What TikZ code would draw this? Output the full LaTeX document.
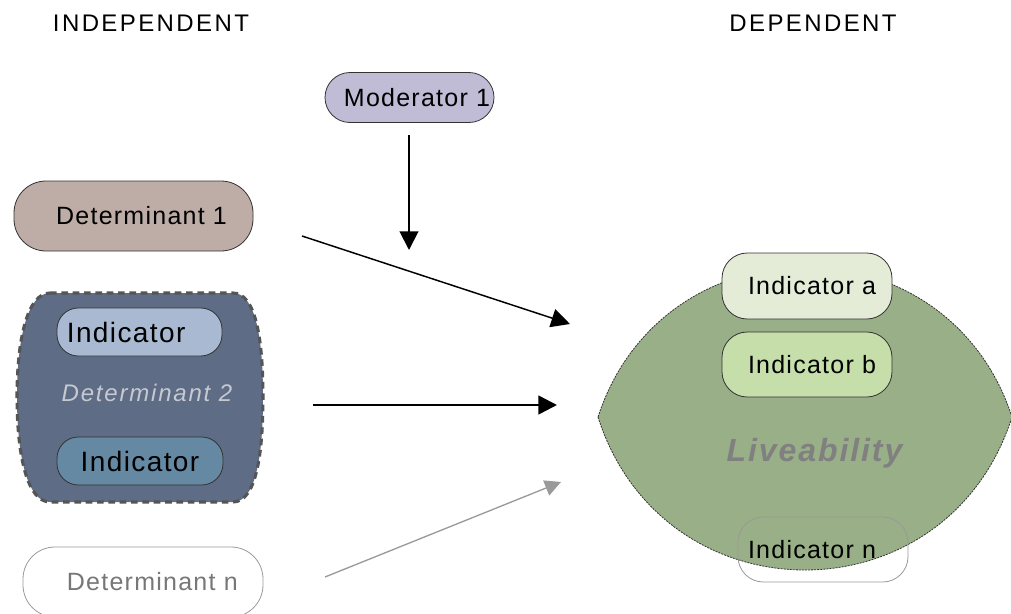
\documentclass[tikz,border=0pt]{standalone}
\usepackage{fontspec}
\setmainfont{Liberation Sans}
\newfontfamily\hdfont[LetterSpace=10]{Liberation Sans}
\newfontfamily\bxfont[LetterSpace=5]{Liberation Sans}
\newfontfamily\dtfont[LetterSpace=7.5]{Liberation Sans}
\newfontfamily\lvfont[LetterSpace=6]{Liberation Sans}
\usetikzlibrary{arrows.meta}
\definecolor{modfill}{HTML}{C0BCD6}
\definecolor{dafill}{HTML}{BDADA6}
\definecolor{dbfill}{HTML}{5E6C85}
\definecolor{dbborder}{HTML}{555555}
\definecolor{itopfill}{HTML}{A8B9D1}
\definecolor{ibotfill}{HTML}{6589A3}
\definecolor{dbtext}{HTML}{C5C9D1}
\definecolor{livfill}{HTML}{99AF87}
\definecolor{iafill}{HTML}{E4ECD7}
\definecolor{ibfill}{HTML}{C5DEAA}
\definecolor{livtext}{HTML}{808080}
\definecolor{dnline}{HTML}{999999}
\definecolor{dntext}{HTML}{777777}
\definecolor{arrgray}{HTML}{9A9A9A}
\definecolor{boxline}{HTML}{333333}
\tikzset{
  header/.style={inner sep=0pt, font=\hdfont\fontsize{18}{21}\selectfont},
  pillbox/.style={draw=boxline, line width=0.6pt, inner sep=0pt, font=\bxfont\fontsize{18.75}{22}\selectfont},
  bigpill/.style={pillbox, font=\bxfont\fontsize{21}{24}\selectfont},
  arrowtip/.style={-{Triangle[length=14pt,width=14pt]}},
}
\begin{document}
\begin{tikzpicture}[x=0.75pt,y=-0.75pt]
\useasboundingbox (0,0) rectangle (1011,614);
\clip (0,0) rectangle (1011,614);

% headers
\node[header] (indep) at (151,23) {INDEPENDENT};
\node[header] (dep) at (813,23) {DEPENDENT};

% moderator
\node[pillbox, fill=modfill, minimum width=126.75pt, minimum height=37.5pt, rounded corners=18.75pt] (mod) at (409.5,97.5) {\hspace*{11.25pt}Moderator 1};

% determinant 1
\node[pillbox, fill=dafill, minimum width=179.25pt, minimum height=52.5pt, rounded corners=24pt] (det1) at (133.5,216) {\hspace*{12pt}Determinant 1};

% determinant 2 container
\path[fill=dbfill, draw=dbborder, line width=2.3pt, dash pattern=on 5pt off 3.5pt]
  (50,293) -- (233,293) .. controls (256,293) and (263,340) .. (263,397)
  .. controls (263,455) and (256,502) .. (233,502) -- (50,502)
  .. controls (27,502) and (17,455) .. (17,397)
  .. controls (17,340) and (27,293) .. (50,293) -- cycle;
\node[bigpill, fill=itopfill, minimum width=123.75pt, minimum height=36pt, rounded corners=16pt] (indtop) at (139.5,332) {Indicator\hspace*{20pt}};
\node[bigpill, fill=ibotfill, minimum width=124.5pt, minimum height=36pt, rounded corners=16pt] (indbot) at (140,461) {Indicator};
\node[inner sep=0pt, text=dbtext, font=\dtfont\itshape\fontsize{18}{21}\selectfont] (det2) at (147,393) {Determinant 2};

% determinant n
\node[pillbox, draw=dnline, text=dntext, minimum width=180pt, minimum height=52.5pt, rounded corners=24pt] (detn) at (143,582) {\hspace*{14pt}Determinant n};

% liveability lens
\path[fill=livfill, draw=boxline, line width=0.6pt, dash pattern=on 1.5pt off 0.8pt]
  (598,417) .. controls (663,217) and (947,217) .. (1012,417)
  .. controls (947,621) and (663,621) .. (598,417) -- cycle;
\node[inner sep=0pt, text=livtext, font=\lvfont\bfseries\itshape\fontsize{24}{28}\selectfont] (live) at (814.5,453) {Liveability};
\node[pillbox, fill=iafill, minimum width=127.5pt, minimum height=49.5pt, rounded corners=19pt] (inda) at (807,286) {\hspace*{7.5pt}Indicator a};
\node[pillbox, fill=ibfill, minimum width=127.5pt, minimum height=48.75pt, rounded corners=19pt] (indb) at (807,364.5) {\hspace*{7.5pt}Indicator b};
\node[pillbox, draw=dnline, minimum width=127.5pt, minimum height=48.75pt, rounded corners=19pt] (indn) at (823,549.5) {Indicator n\hspace*{16.5pt}};

% arrows
\coordinate (ms) at (409,135);
\coordinate (me) at (409,250);
\coordinate (a1s) at (302,236);
\coordinate (a1e) at (570,324);
\coordinate (a2s) at (313,405);
\coordinate (a2e) at (557,405);
\coordinate (a3s) at (325,577);
\coordinate (a3e) at (561,482);
\draw[arrowtip, line width=1.5pt, black] (ms) -- (me);
\draw[arrowtip, line width=1.1pt, black] (a1s) -- (a1e);
\draw[arrowtip, line width=1.9pt, black] (a2s) -- (a2e);
\draw[-{Triangle[length=12pt,width=12pt]}, line width=1pt, arrgray] (a3s) -- (a3e);
\end{tikzpicture}
\end{document}
